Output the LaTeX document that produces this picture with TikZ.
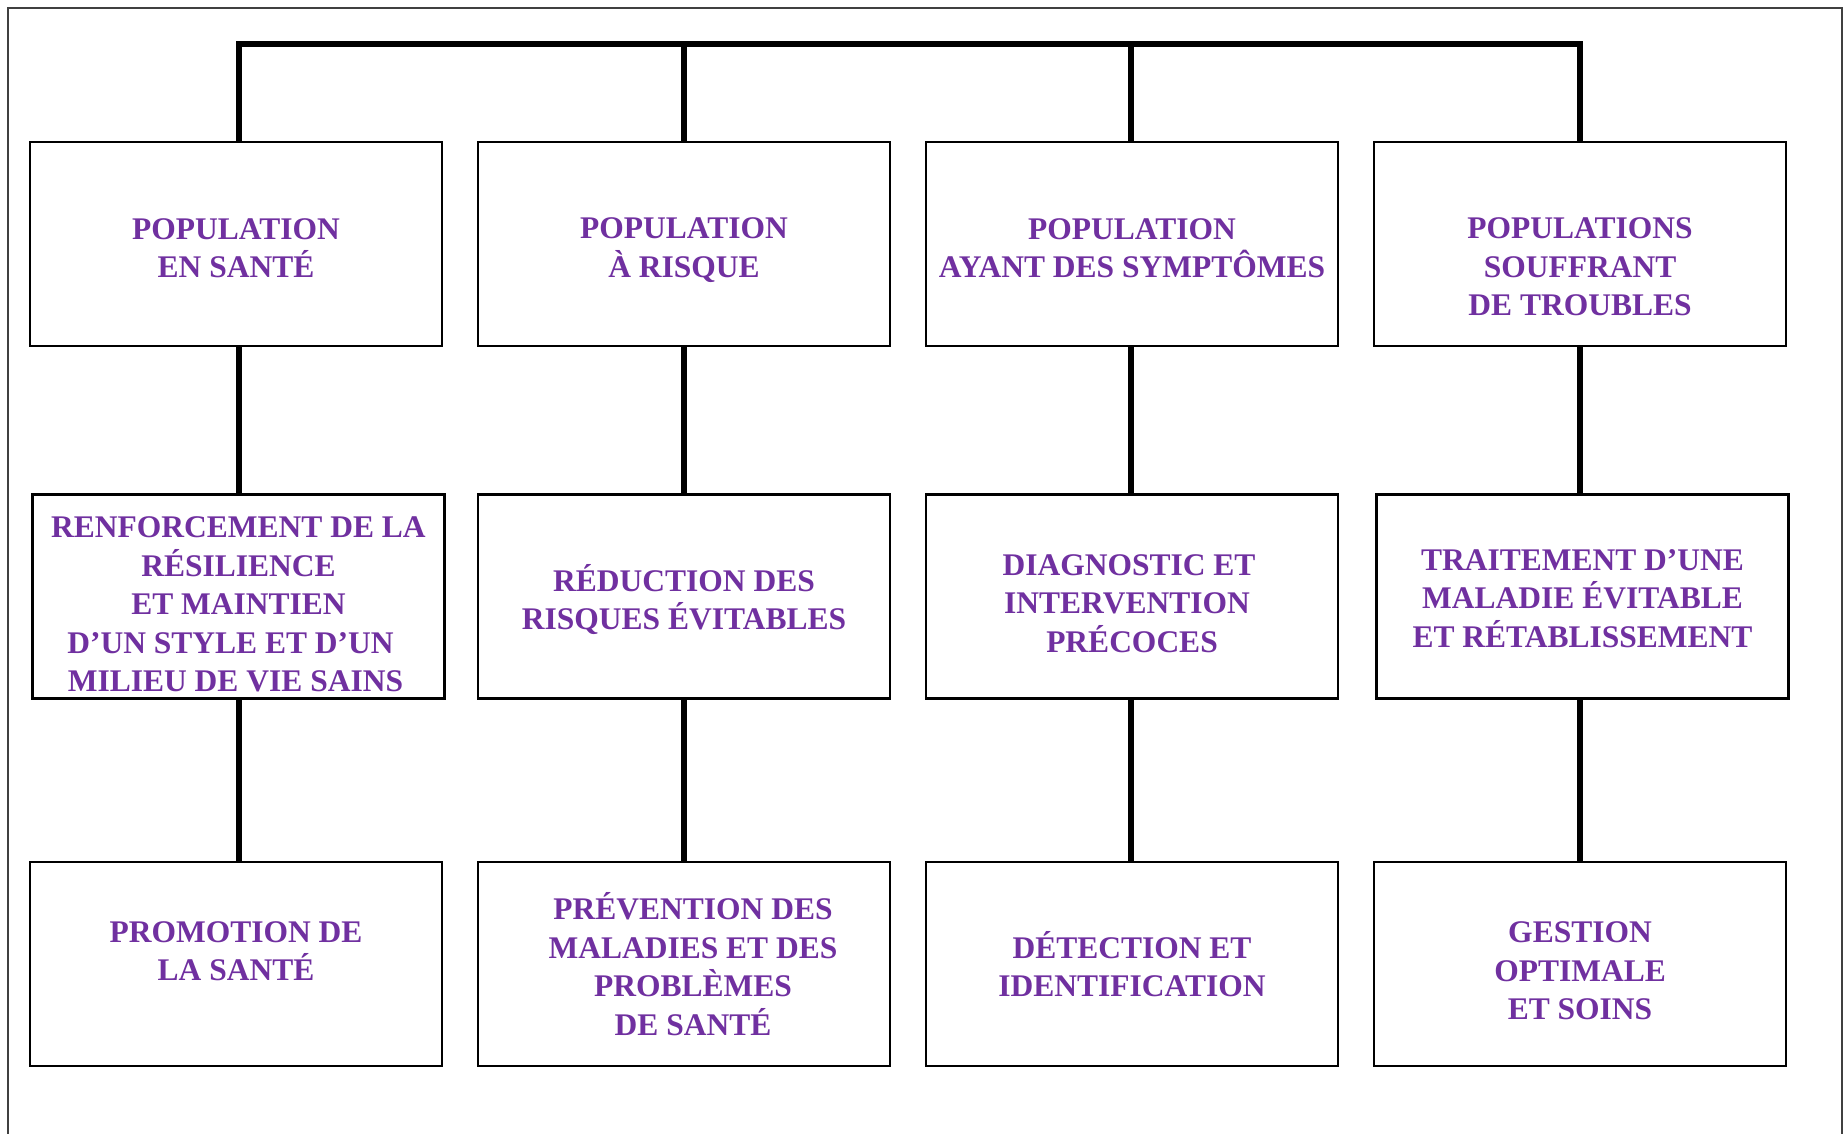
\documentclass[tikz,border=0pt]{standalone}
\usepackage{fontspec}
\setmainfont{Liberation Serif}
\definecolor{txtpurple}{HTML}{7030A0}
\begin{document}
\begin{tikzpicture}[x=1pt,y=-1pt,
  box/.style={draw=black, line width=2.3pt, rectangle, inner sep=0pt,
    minimum width=412pt, minimum height=204pt},
  lbl/.style={align=center, inner sep=0pt,
    font=\fontsize{31.5}{38.5}\selectfont\bfseries, text=txtpurple},
  conn/.style={line width=5.5pt}]
\useasboundingbox (0,0) rectangle (1846,1133);
\fill[white] (0,0) rectangle (1846,1133);
\draw[black!75, line width=2pt] (8,1140) -- (8,8) -- (1842,8) -- (1842,1140);

% row 1
\node[box, label={[lbl,yshift=-4pt]center:{POPULATION\\EN SANTÉ}}] (b11) at (236,244) {};
\node[box, label={[lbl,yshift=-6pt]center:{POPULATION\\À RISQUE}}] (b12) at (684,244) {};
\node[box, label={[lbl,yshift=-4pt]center:{POPULATION\\AYANT DES SYMPTÔMES}}] (b13) at (1132,244) {};
\node[box, label={[lbl,yshift=-23pt]center:{POPULATIONS\\SOUFFRANT\\DE TROUBLES}}] (b14) at (1580,244) {};
% row 2
\node[box, label={[lbl,yshift=-8pt]center:{RENFORCEMENT DE LA\\RÉSILIENCE\\ET MAINTIEN\\\hspace*{-16pt}D’UN STYLE ET D’UN\\\hspace*{-6pt}MILIEU DE VIE SAINS}}] (b21) at (238.5,596.5) {};
\node[box, label={[lbl,yshift=-3pt]center:{RÉDUCTION DES\\RISQUES ÉVITABLES}}] (b22) at (684,596.5) {};
\node[box, label={[lbl,yshift=-7pt]center:{\hspace*{-6pt}DIAGNOSTIC ET\\\hspace*{-10pt}INTERVENTION\\PRÉCOCES}}] (b23) at (1132,596.5) {};
\node[box, label={[lbl,yshift=-2pt]center:{TRAITEMENT D’UNE\\MALADIE ÉVITABLE\\ET RÉTABLISSEMENT}}] (b24) at (1582.5,596.5) {};
% row 3
\node[box, label={[lbl,yshift=13pt]center:{PROMOTION DE\\LA SANTÉ}}] (b31) at (236,964) {};
\node[box, label={[lbl]center:{\hspace*{18pt}PRÉVENTION DES\\\hspace*{18pt}MALADIES ET DES\\\hspace*{18pt}PROBLÈMES\\\hspace*{18pt}DE SANTÉ}}] (b32) at (684,964) {};
\node[box, label={[lbl]center:{DÉTECTION ET\\IDENTIFICATION}}] (b33) at (1132,964) {};
\node[box, label={[lbl,yshift=-7pt]center:{GESTION\\OPTIMALE\\ET SOINS}}] (b34) at (1580,964) {};

% bus
\coordinate (t1) at (239,44);
\coordinate (t2) at (684,44);
\coordinate (t3) at (1131,44);
\coordinate (t4) at (1580,44);
\draw[conn] ([xshift=-2.75pt]t1) -- ([xshift=2.75pt]t4);
\foreach \i in {1,2,3,4}{
  \draw[conn] (t\i) -- (b1\i.north -| t\i);
  \draw[conn] (b1\i.south -| t\i) -- (b2\i.north -| t\i);
  \draw[conn] (b2\i.south -| t\i) -- (b3\i.north -| t\i);
}
\end{tikzpicture}
\end{document}
